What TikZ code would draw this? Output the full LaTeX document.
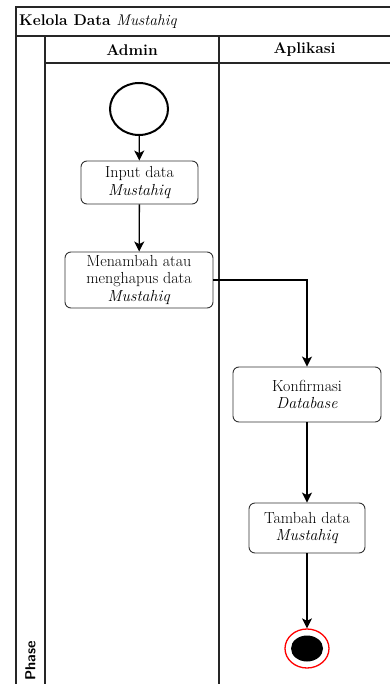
\documentclass[tikz,border=0pt]{standalone}
\usetikzlibrary{shapes.geometric,arrows.meta}
\begin{document}
\begin{tikzpicture}[x=1pt,y=-1pt,
  frame/.style={line width=1.4pt,draw=black!85},
  actbox/.style={draw=black!80,line width=0.9pt,rounded corners=6pt,align=center,
    font=\fontsize{16}{17.5}\selectfont,inner sep=1pt},
  flow/.style={line width=1.3pt,draw=black,-{Stealth[length=10pt,width=10pt,inset=2.5pt]}},
  hdr/.style={font=\bfseries\fontsize{15.5}{17}\selectfont}]
\useasboundingbox (0,0) rectangle (390,684);
% frame
\draw[frame] (390,7) -- (16,7) -- (16,684);
\draw[frame] (16,36) -- (390,36);
\draw[frame] (45,36) -- (45,684);
\draw[frame] (45,63) -- (390,63);
\draw[frame] (219,36) -- (219,684);
\node[hdr,anchor=west,inner sep=0pt] (title) at (19,21.5) {Kelola Data {\mdseries\itshape Mustahiq}};
\node[hdr] (admin) at (132,50) {Admin};
\node[hdr] (aplikasi) at (304.5,50) {Aplikasi};
\node[font=\sffamily\bfseries\fontsize{14.5}{15}\selectfont,rotate=90,inner sep=0pt] (phase) at (30.5,661) {Phase};
% nodes
\node[draw=black,line width=2pt,ellipse,minimum width=58pt,minimum height=52pt,inner sep=0pt] (start) at (139,109) {};
\node[actbox,minimum width=117pt,minimum height=43pt] (input) at (139.5,182.5) {Input data\\\textit{Mustahiq}};
\node[actbox,minimum width=148pt,minimum height=56pt] (tambahhapus) at (139,280) {Menambah atau\\menghapus data\\\textit{Mustahiq}};
\node[actbox,minimum width=148pt,minimum height=55pt] (konf) at (307,394.5) {Konfirmasi\\\textit{Database}};
\node[actbox,minimum width=116pt,minimum height=50pt] (tambah) at (307,528) {Tambah data\\\textit{Mustahiq}};
\node[draw=red,line width=1.3pt,ellipse,minimum width=44pt,minimum height=39pt,inner sep=0pt] (end) at (307,648.5) {};
\node[fill=black,ellipse,minimum width=32pt,minimum height=26pt,inner sep=0pt] (endin) at (end.center) {};
% connectors
\draw[flow] (start) -- (input);
\draw[flow] (input) -- (tambahhapus);
\draw[flow] (tambahhapus.east) -| (konf.north);
\draw[flow] (konf) -- (tambah);
\draw[flow] (tambah) -- (end);
\end{tikzpicture}
\end{document}
